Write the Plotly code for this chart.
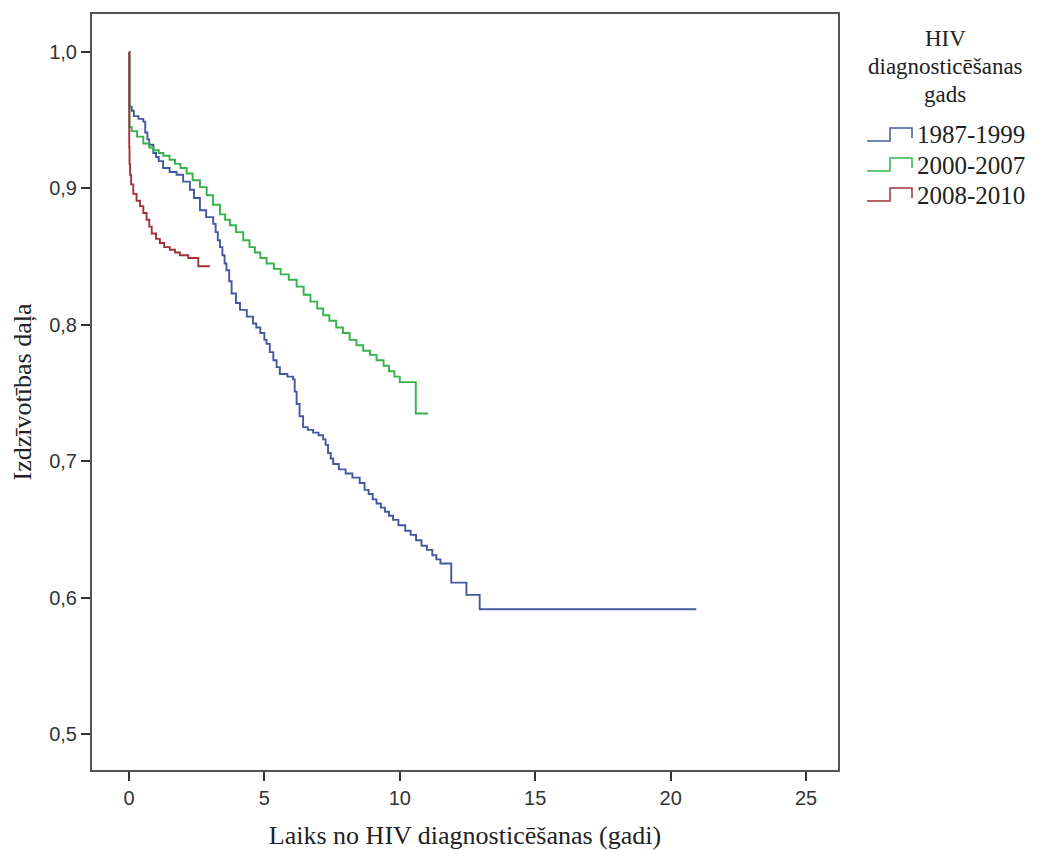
import plotly.graph_objects as go

# ---- data (Kaplan-Meier survival steps) ----
series_names = ["1987-1999", "2000-2007", "2008-2010"]

t_1987 = [0, 0.02, 0.1, 0.18, 0.35, 0.53, 0.6, 0.68, 0.75, 0.9, 1.0, 1.1, 1.26, 1.5, 1.76, 2.0,
          2.25, 2.4, 2.62, 2.85, 3.11, 3.2, 3.28, 3.36, 3.45, 3.53, 3.6, 3.7, 3.79, 3.95, 4.1,
          4.35, 4.58, 4.7, 4.85, 5.0, 5.08, 5.2, 5.33, 5.45, 5.57, 5.85, 6.06, 6.12, 6.19, 6.3,
          6.43, 6.6, 6.8, 7.0, 7.17, 7.26, 7.35, 7.45, 7.54, 7.75, 8.0, 8.25, 8.52, 8.7, 8.85,
          9.0, 9.14, 9.3, 9.45, 9.6, 9.75, 9.95, 10.2, 10.4, 10.6, 10.8, 11.0, 11.2, 11.35, 11.5,
          11.9, 12.46, 12.95, 20.95]
s_1987 = [1.0, 0.96, 0.957, 0.953, 0.951, 0.949, 0.941, 0.936, 0.932, 0.926, 0.923, 0.920, 0.915,
          0.912, 0.910, 0.905, 0.899, 0.893, 0.884, 0.879, 0.874, 0.868, 0.862, 0.857, 0.851,
          0.845, 0.840, 0.832, 0.823, 0.816, 0.811, 0.806, 0.801, 0.798, 0.794, 0.789, 0.786,
          0.780, 0.774, 0.769, 0.764, 0.762, 0.760, 0.751, 0.742, 0.733, 0.725, 0.723, 0.721,
          0.719, 0.716, 0.712, 0.706, 0.702, 0.698, 0.694, 0.691, 0.688, 0.684, 0.679, 0.676,
          0.672, 0.669, 0.666, 0.663, 0.660, 0.657, 0.653, 0.649, 0.646, 0.642, 0.638, 0.635,
          0.631, 0.628, 0.625, 0.611, 0.602, 0.5915, 0.5915]

t_2000 = [0, 0.02, 0.1, 0.3, 0.53, 0.75, 0.9, 1.1, 1.27, 1.5, 1.7, 1.9, 2.13, 2.35, 2.62, 2.87,
          3.1, 3.36, 3.55, 3.73, 3.95, 4.22, 4.45, 4.65, 4.85, 5.08, 5.35, 5.6, 5.9, 6.19, 6.45,
          6.7, 6.95, 7.17, 7.4, 7.65, 7.9, 8.15, 8.4, 8.65, 8.9, 9.14, 9.4, 9.6, 9.8, 10.0,
          10.59, 11.04]
s_2000 = [1.0, 0.945, 0.942, 0.938, 0.933, 0.930, 0.928, 0.926, 0.924, 0.921, 0.918, 0.915,
          0.911, 0.906, 0.901, 0.895, 0.888, 0.881, 0.877, 0.873, 0.868, 0.862, 0.857, 0.853,
          0.849, 0.845, 0.841, 0.837, 0.833, 0.828, 0.822, 0.817, 0.812, 0.807, 0.803, 0.798,
          0.794, 0.789, 0.785, 0.781, 0.778, 0.774, 0.770, 0.766, 0.762, 0.758, 0.735, 0.735]

t_2008 = [0, 0.01, 0.02, 0.04, 0.08, 0.16, 0.28, 0.41, 0.53, 0.65, 0.75, 0.84, 1.0, 1.14, 1.3,
          1.51, 1.7, 1.88, 2.19, 2.56, 2.99]
s_2008 = [1.0, 0.93, 0.918, 0.91, 0.903, 0.896, 0.891, 0.887, 0.882, 0.877, 0.872, 0.867, 0.863,
          0.860, 0.857, 0.855, 0.853, 0.851, 0.849, 0.843, 0.843]

x_ticks = [0, 5, 10, 15, 20, 25]
y_ticks = [0.5, 0.6, 0.7, 0.8, 0.9, 1.0]
y_tick_labels = ["0,5", "0,6", "0,7", "0,8", "0,9", "1,0"]
legend_title_lines = ["HIV", "diagnosticēšanas", "gads"]

colors = ["#44589f", "#35b24a", "#a3323a"]
all_t = [t_1987, t_2000, t_2008]
all_s = [s_1987, s_2000, s_2008]

fig = go.Figure()
for name, t, s, c in zip(series_names, all_t, all_s, colors):
    fig.add_trace(go.Scatter(x=t, y=s, mode="lines", name=name,
                             line=dict(color=c, width=1.9, shape="hv"),
                             showlegend=False))

# ---- geometry (page has an 8px body margin, so figure coords = page coords - 8) ----
OFF = 8
W, H = 1040 - OFF, 850 - OFF
ml, mt = 92 - OFF, 14 - OFF
pr, pb = 838 - OFF, 770 - OFF
mr, mb = W - pr, H - pb
pw, ph = pr - ml, pb - mt

def px2paper(x, y):
    x, y = x - OFF, y - OFF
    return (x - ml) / pw, 1 - (y - mt) / ph

SERIF = "Liberation Serif"
shapes = []
annotations = []
legend_y = [135, 165, 195]
for name, c, yc in zip(series_names, colors, legend_y):
    pts = [(867, yc + 6), (890, yc + 6), (890, yc - 7), (912, yc - 7), (912, yc + 3)]
    path = ""
    for i, (x, y) in enumerate(pts):
        px, py = px2paper(x, y)
        path += ("M" if i == 0 else "L") + f" {px:.5f},{py:.5f} "
    shapes.append(dict(type="path", xref="paper", yref="paper", path=path,
                       line=dict(color=c, width=1.5)))
    ax, ay = px2paper(915, yc)
    annotations.append(dict(x=ax, y=ay, xref="paper", yref="paper", text=name,
                            showarrow=False, xanchor="left", yanchor="middle",
                            font=dict(family=SERIF, size=25, color="#222")))

for line_text, yc in zip(legend_title_lines, [38, 66, 94]):
    tx, ty = px2paper(945, yc)
    annotations.append(dict(x=tx, y=ty, xref="paper", yref="paper", text=line_text,
                            showarrow=False, xanchor="center", yanchor="middle",
                            font=dict(family=SERIF, size=23, color="#222")))

tickfont = dict(family="Liberation Sans", size=20, color="#333")
fig.update_layout(
    width=W, height=H,
    margin=dict(l=ml, r=mr, t=mt, b=mb),
    paper_bgcolor="white", plot_bgcolor="white",
    shapes=shapes, annotations=annotations,
    xaxis=dict(range=[-1.365, 26.18], tickvals=x_ticks, ticks="outside", ticklen=9,
               tickwidth=1.5, tickcolor="#333", showgrid=False, zeroline=False,
               showline=True, linecolor="#555", linewidth=2, mirror=True, automargin=False,
               tickfont=tickfont,
               title=dict(text="Laiks no HIV diagnosticēšanas (gadi)", standoff=18,
                          font=dict(family=SERIF, size=26, color="#222"))),
    yaxis=dict(range=[0.4736, 1.0279], tickvals=y_ticks, ticktext=y_tick_labels,
               ticks="outside", ticklen=9, tickwidth=1.5, tickcolor="#333",
               showgrid=False, zeroline=False, automargin=False,
               showline=True, linecolor="#555", linewidth=2, mirror=True,
               tickfont=tickfont,
               title=dict(text="Izdzīvotības daļa", standoff=12,
                          font=dict(family=SERIF, size=26, color="#222"))),
)

fig.write_html("out.html")
